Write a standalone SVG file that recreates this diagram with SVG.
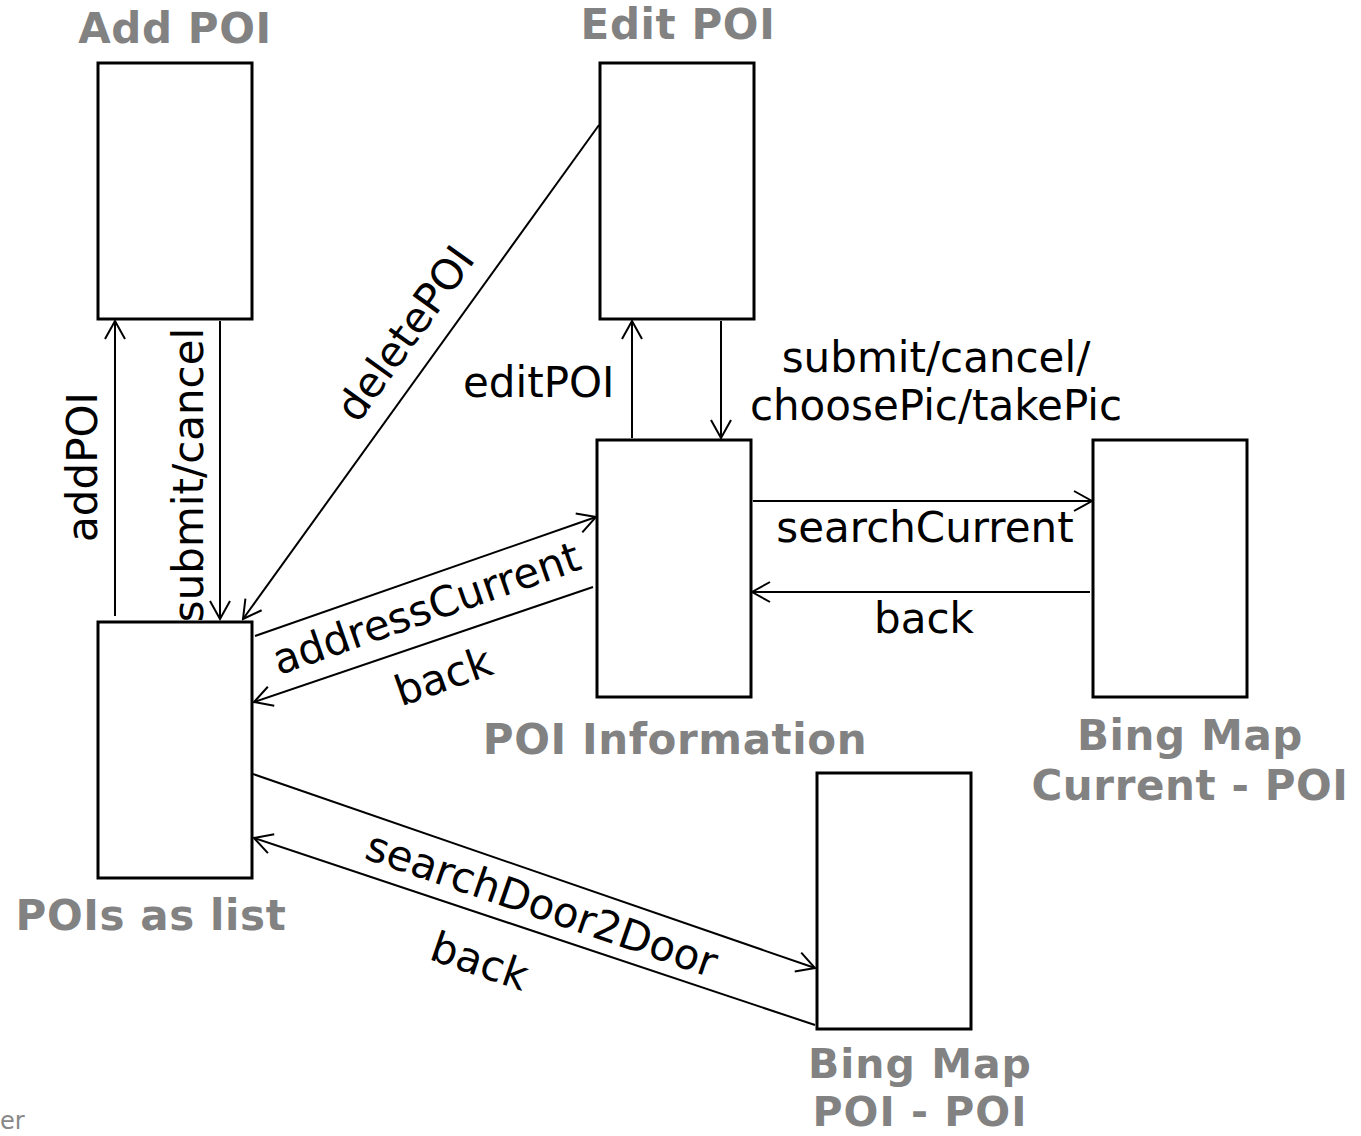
<svg xmlns="http://www.w3.org/2000/svg" width="1361" height="1136" viewBox="0 0 1361 1136">
<style>
.box{fill:#fff;stroke:#000;stroke-width:3}
.title{font-family:"DejaVu Sans",Verdana,sans-serif;font-weight:bold;font-size:42px;letter-spacing:0.6px;fill:#828282;text-anchor:middle}
.lbl{font-family:"DejaVu Sans",Verdana,sans-serif;font-size:42px;fill:#000}
.c{text-anchor:middle}
.edge{stroke:#000;stroke-width:2;fill:none;marker-end:url(#arr)}
</style>
<defs>
<marker id="arr" viewBox="-20 -12 22 24" markerWidth="22" markerHeight="24" refX="0" refY="0" orient="auto" markerUnits="userSpaceOnUse">
<path d="M-18,-10 L0,0 L-18,10" fill="none" stroke="#000" stroke-width="2"/>
</marker>
</defs>
<rect width="1361" height="1136" fill="#fff"/>
<g id="node-addpoi">
<rect class="box" x="98" y="63" width="154" height="256"/>
<text class="title" x="175" y="43">Add POI</text>
</g>
<g id="node-editpoi">
<rect class="box" x="600" y="63" width="154" height="256"/>
<text class="title" x="678" y="39">Edit POI</text>
</g>
<g id="node-poiinfo">
<rect class="box" x="597" y="440" width="154" height="257"/>
<text class="title" x="675" y="754">POI Information</text>
</g>
<g id="node-bingcurrent">
<rect class="box" x="1093" y="440" width="154" height="257"/>
<text class="title"><tspan x="1190" y="750">Bing Map</tspan><tspan x="1190" y="800">Current - POI</tspan></text>
</g>
<g id="node-poilist">
<rect class="box" x="98" y="622" width="154" height="256"/>
<text class="title" x="151" y="930">POIs as list</text>
</g>
<g id="node-bingpoi">
<rect class="box" x="817" y="773" width="154" height="256"/>
<text class="title" style="font-size:41px;letter-spacing:1px"><tspan x="920" y="1078">Bing Map</tspan><tspan x="920" y="1126">POI - POI</tspan></text>
</g>
<g id="connectors">
<line class="edge" x1="115" y1="616" x2="115" y2="321"/>
<line class="edge" x1="220" y1="321" x2="220" y2="619"/>
<line class="edge" x1="599" y1="125" x2="243" y2="619"/>
<line class="edge" x1="632" y1="438" x2="632" y2="321"/>
<line class="edge" x1="721" y1="321" x2="721" y2="438"/>
<line class="edge" x1="753" y1="501" x2="1092" y2="501"/>
<line class="edge" x1="1090" y1="592" x2="752" y2="592"/>
<line class="edge" x1="255" y1="636" x2="596" y2="517"/>
<line class="edge" x1="593" y1="587" x2="254" y2="702"/>
<line class="edge" x1="253" y1="774" x2="815" y2="968"/>
<line class="edge" x1="815" y1="1025" x2="254" y2="838"/>
</g>
<g id="labels">
<text class="lbl c" transform="translate(97,467) rotate(-90)">addPOI</text>
<text class="lbl c" transform="translate(203,475) rotate(-90)">submit/cancel</text>
<text class="lbl c" transform="translate(417,342) rotate(-54.3)">deletePOI</text>
<text class="lbl" x="463" y="397">editPOI</text>
<text class="lbl c"><tspan x="936" y="372">submit/cancel/</tspan><tspan x="936" y="420">choosePic/takePic</tspan></text>
<text class="lbl c" x="925" y="542">searchCurrent</text>
<text class="lbl c" x="924" y="633">back</text>
<text class="lbl c" transform="translate(431,622) rotate(-19.3)">addressCurrent</text>
<text class="lbl c" transform="translate(448,690) rotate(-19.3)">back</text>
<text class="lbl c" transform="translate(537,918) rotate(19)">searchDoor2Door</text>
<text class="lbl c" transform="translate(475,975) rotate(19)">back</text>
<text x="0" y="1129" style="font-family:'DejaVu Sans',sans-serif;font-size:24px;fill:#888">er</text>
</g>
</svg>
